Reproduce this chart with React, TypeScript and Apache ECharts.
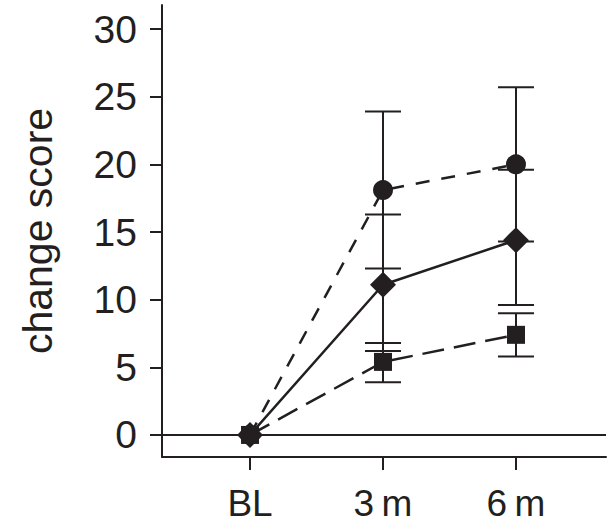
import React, { useEffect, useRef } from "react";
import * as echarts from "echarts";

const categories = ["BL", "3\u2009m", "6\u2009m"];
const xPositions = [0, 1, 2];
const yTicks = [0, 5, 10, 15, 20, 25, 30];

const circleMean = [0, 18.1, 20.0];
const circleLow = [null, 12.3, 14.3];
const circleHigh = [null, 23.9, 25.7];

const diamondMean = [0, 11.1, 14.4];
const diamondLow = [null, 6.2, 9.6];
const diamondHigh = [null, 16.3, 19.6];

const squareMean = [0, 5.4, 7.4];
const squareLow = [null, 3.9, 5.8];
const squareHigh = [null, 6.8, 9.0];

const INK = "#231f20";
const FONT = "Liberation Sans";

function errData(low: (number | null)[], high: (number | null)[]) {
  const out: number[][] = [];
  xPositions.forEach((x, i) => {
    const l = low[i];
    const h = high[i];
    if (l != null && h != null) out.push([x, l, h]);
  });
  return out;
}

function errSeries(low: (number | null)[], high: (number | null)[]) {
  return {
    type: "custom",
    data: errData(low, high),
    z: 1,
    renderItem: (_params: any, api: any) => {
      const x = api.value(0);
      const pLo = api.coord([x, api.value(1)]);
      const pHi = api.coord([x, api.value(2)]);
      const w = 18;
      const style = { stroke: INK, lineWidth: 2 };
      return {
        type: "group",
        children: [
          { type: "line", shape: { x1: pLo[0], y1: pLo[1], x2: pHi[0], y2: pHi[1] }, style },
          { type: "line", shape: { x1: pLo[0] - w, y1: pLo[1], x2: pLo[0] + w, y2: pLo[1] }, style },
          { type: "line", shape: { x1: pHi[0] - w, y1: pHi[1], x2: pHi[0] + w, y2: pHi[1] }, style },
        ],
      };
    },
  };
}

function lineSeries(mean: number[], symbol: string, size: number, dash: any) {
  return {
    type: "line",
    data: xPositions.map((x, i) => [x, mean[i]]),
    symbol,
    symbolSize: size,
    z: 3,
    itemStyle: { color: INK, borderWidth: 0 },
    lineStyle: { color: INK, width: 2.5, type: dash },
  };
}

export default function App() {
  const ref = useRef<HTMLDivElement>(null);
  useEffect(() => {
    if (!ref.current) return;
    const chart = echarts.init(ref.current, undefined, { renderer: "svg" });
    chart.setOption({
      animation: false,
      textStyle: { fontFamily: FONT, color: INK },
      grid: { left: 162, right: 9, top: 5, bottom: 69 },
      xAxis: {
        type: "value",
        min: -0.662,
        max: 2.677,
        splitLine: { show: false },
        axisLine: { show: true, onZero: false, lineStyle: { color: INK, width: 2 } },
        axisTick: { show: true, customValues: xPositions, length: 13, lineStyle: { color: INK, width: 2 } },
        axisLabel: {
          customValues: xPositions,
          formatter: (v: number) => categories[Math.round(v)] ?? "",
          fontSize: 37,
          lineHeight: 32,
          fontFamily: FONT,
          color: INK,
          margin: 30,
        },
      },
      yAxis: {
        type: "value",
        min: -1.63,
        max: 31.78,
        name: "change score",
        nameLocation: "middle",
        nameGap: 104,
        nameTextStyle: { fontSize: 41, fontFamily: FONT, color: INK },
        splitLine: { show: false },
        axisLine: { show: true, onZero: false, lineStyle: { color: INK, width: 2 } },
        axisTick: { show: true, customValues: yTicks, length: 12, lineStyle: { color: INK, width: 2 } },
        axisLabel: {
          customValues: yTicks,
          fontSize: 39,
          fontFamily: FONT,
          color: INK,
          margin: 25,
        },
      },
      series: [
        {
          type: "line",
          data: [],
          markLine: {
            silent: true,
            symbol: "none",
            label: { show: false },
            lineStyle: { color: INK, width: 2, type: "solid" },
            data: [{ yAxis: 0 }],
          },
        },
        errSeries(circleLow, circleHigh),
        errSeries(diamondLow, diamondHigh),
        errSeries(squareLow, squareHigh),
        lineSeries(circleMean, "circle", 20, [14, 12]),
        lineSeries(diamondMean, "diamond", 26, "solid"),
        lineSeries(squareMean, "rect", 18, [22, 10]),
      ],
    });
    return () => chart.dispose();
  }, []);
  return (
    <div
      ref={ref}
      style={{ position: "fixed", left: 0, top: 0, width: 615, height: 526, background: "#fff" }}
    />
  );
}
